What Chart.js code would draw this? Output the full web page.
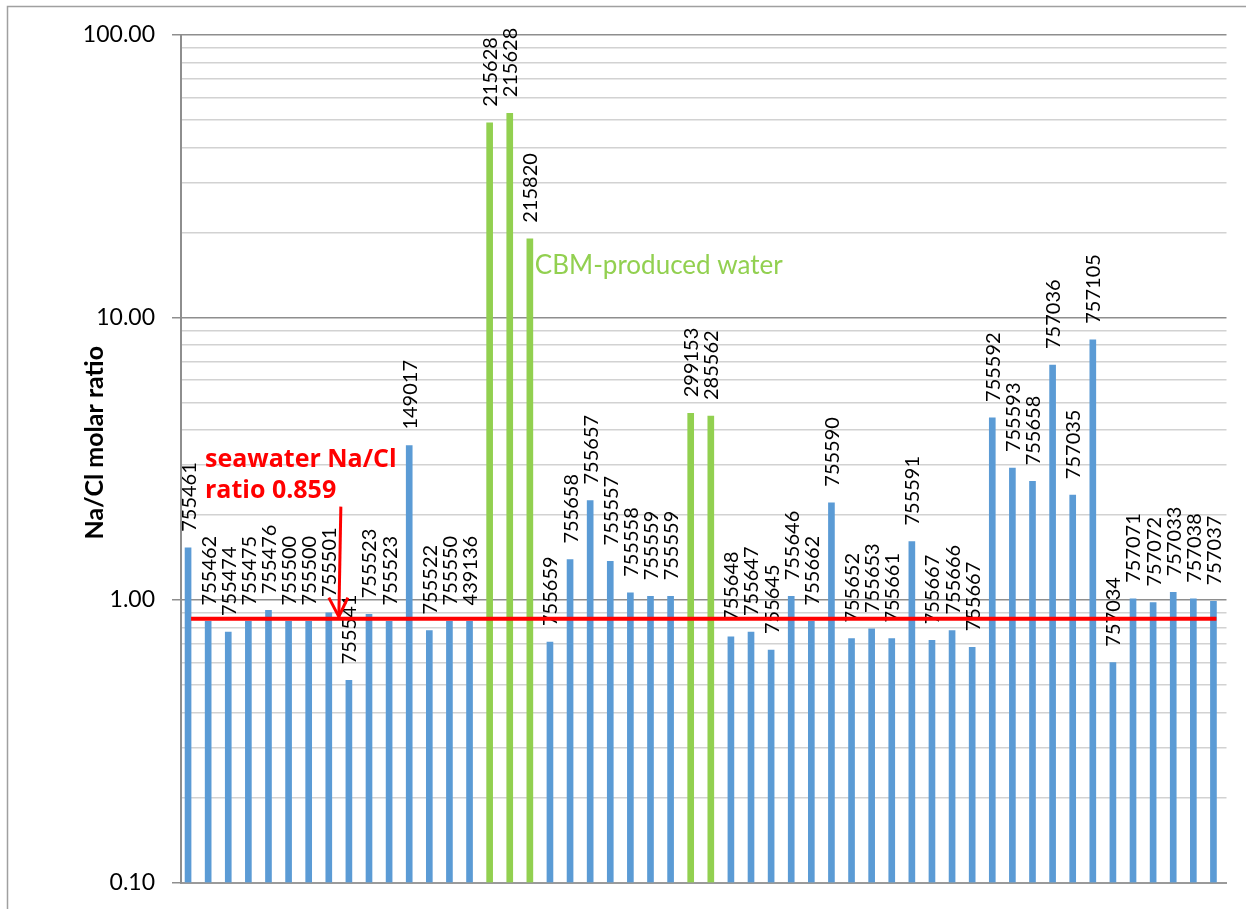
<!DOCTYPE html>
<html><head><meta charset="utf-8">
<script src="https://cdn.jsdelivr.net/npm/chart.js@4.4.1/dist/chart.umd.min.js"></script>
<style>html,body{margin:0;padding:0;background:#fff;}canvas{display:block;}</style>
</head><body>
<canvas id="c" width="1246" height="909"></canvas>
<script>
// ---- data ----
const sampleIds = ['755461','755462','755474','755475','755476','755500','755500','755501','755541','755523','755523','149017','755522','755550','439136','215628','215628','215820','755659','755658','755657','755557','755558','755559','755559','299153','285562','755648','755647','755645','755646','755662','755590','755652','755653','755661','755591','755667','755666','755667','755592','755593','755658','757036','757035','757105','757034','757071','757072','757033','757038','757037'];
const naClRatio = [1.53,0.84,0.77,0.84,0.92,0.84,0.84,0.90,0.52,0.89,0.84,3.52,0.78,0.84,0.84,48.9,52.8,19.0,0.71,1.39,2.25,1.37,1.06,1.03,1.03,4.58,4.48,0.74,0.77,0.665,1.03,0.84,2.21,0.73,0.79,0.73,1.61,0.72,0.78,0.68,4.41,2.93,2.63,6.79,2.35,8.34,0.60,1.01,0.98,1.065,1.01,0.99];
const waterType = ['other','other','other','other','other','other','other','other','other','other','other','other','other','other','other','CBM','CBM','CBM','other','other','other','other','other','other','other','CBM','CBM','other','other','other','other','other','other','other','other','other','other','other','other','other','other','other','other','other','other','other','other','other','other','other','other','other'];
const yTickValues = [0.1,0.2,0.3,0.4,0.5,0.6,0.7,0.8,0.9,1,2,3,4,5,6,7,8,9,10,20,30,40,50,60,70,80,90,100];
const yMajorTicks = [0.1,1,10,100];
const seawaterRatio = 0.859;
const yAxisTitle = 'Na/Cl molar ratio';
const seawaterNote = ['seawater Na/Cl', 'ratio 0.859'];
const cbmNote = 'CBM-produced water';

// ---- styles ----
const BLUE = '#5B9BD5', GREEN = '#92D050', RED = '#FF0000';
const isMajor = v => yMajorTicks.some(m => Math.abs(m - v) < 1e-9);

const framePlugin = {
  id: 'frame',
  beforeDraw(chart) {
    const c = chart.ctx;
    c.save();
    c.fillStyle = '#fff';
    c.fillRect(0, 0, chart.width, chart.height);
    c.strokeStyle = '#a0a0a0';
    c.lineWidth = 1.5;
    c.beginPath();
    c.moveTo(7.5, chart.height);
    c.lineTo(7.5, 6.5);
    c.lineTo(chart.width, 6.5);
    c.stroke();
    c.restore();
  },
  afterDraw(chart) {
    const c = chart.ctx, a = chart.chartArea;
    c.save();
    c.translate(95, (a.top + a.bottom) / 2 - 16);
    c.rotate(-Math.PI / 2);
    c.font = 'bold 25px Lato';
    c.fillStyle = '#000';
    c.textAlign = 'center';
    c.textBaseline = 'middle';
    c.fillText(yAxisTitle, 0, 0);
    c.restore();
  }
};

const labelPlugin = {
  id: 'barLabels',
  afterDatasetDraw(chart, args) {
    if (args.index !== 0) return;
    const c = chart.ctx;
    const meta = chart.getDatasetMeta(0);
    c.save();
    c.font = '20px Lato';
    c.fillStyle = '#000';
    c.textAlign = 'left';
    c.textBaseline = 'middle';
    meta.data.forEach((bar, i) => {
      c.save();
      c.translate(bar.x + 1, bar.y - 16);
      c.rotate(-Math.PI / 2);
      c.fillText(sampleIds[i], 0, 0);
      c.restore();
    });
    c.restore();
  }
};

const notePlugin = {
  id: 'notes',
  afterDatasetsDraw(chart) {
    const c = chart.ctx, xs = chart.scales.x, ys = chart.scales.y, a = chart.chartArea;
    const ySea = ys.getPixelForValue(seawaterRatio);
    c.save();
    c.fillStyle = RED;
    c.font = 'bold 25px "Open Sans"';
    c.textAlign = 'left';
    c.textBaseline = 'alphabetic';
    c.fillText(seawaterNote[0], a.left + 24, ySea - 152);
    c.fillText(seawaterNote[1], a.left + 24, ySea - 121);
    const ax = xs.getPixelForValue(7.5) - 3;
    const tipY = ySea - 2;
    c.strokeStyle = RED;
    c.lineWidth = 3;
    c.beginPath();
    c.moveTo(ax + 2, ySea - 112);
    c.lineTo(ax, tipY);
    c.stroke();
    c.beginPath();
    c.moveTo(ax - 10, tipY - 19);
    c.lineTo(ax, tipY);
    c.lineTo(ax + 9, tipY - 19);
    c.stroke();
    c.fillStyle = GREEN;
    c.font = '26px Lato';
    const gx = chart.getDatasetMeta(0).data[17].x;
    c.fillText(cbmNote, gx + 5, ys.getPixelForValue(10) - 44);
    c.restore();
  }
};

Chart.defaults.font.family = 'Lato';

new Chart(document.getElementById('c'), {
  type: 'bar',
  data: {
    labels: sampleIds,
    datasets: [
      {
        label: 'Na/Cl',
        data: naClRatio,
        backgroundColor: waterType.map(t => t === 'CBM' ? GREEN : BLUE),
        barThickness: 6,
        order: 0
      },
      {
        label: '',
        data: [],
        barThickness: 6,
        order: 0
      },
      {
        type: 'line',
        label: 'seawater',
        data: sampleIds.map(() => seawaterRatio),
        borderColor: RED,
        borderWidth: 4,
        pointRadius: 0,
        fill: false,
        order: -1
      }
    ]
  },
  options: {
    responsive: false,
    animation: false,
    devicePixelRatio: 1,
    layout: { padding: { left: 0, right: 19.5, top: 35, bottom: 26.5 } },
    plugins: { legend: { display: false }, tooltip: { enabled: false } },
    scales: {
      x: {
        type: 'category',
        offset: true,
        grid: { display: false, drawTicks: false },
        ticks: { display: false },
        border: { display: true, color: '#9a9a9a', width: 2 },
        afterFit(s) { s.height = 0; s.paddingLeft = 0; s.paddingRight = 0; }
      },
      y: {
        type: 'logarithmic',
        min: 0.1,
        max: 100,
        afterBuildTicks(s) { s.ticks = yTickValues.map(v => ({ value: v, major: isMajor(v) })); },
        afterFit(s) { s.width = 181; s.paddingTop = 0; s.paddingBottom = 0; },
        ticks: {
          autoSkip: false,
          padding: 17,
          color: '#000',
          font: { family: 'Lato', size: 23 },
          callback: (v) => isMajor(v) ? Number(v).toFixed(2) : ''
        },
        grid: {
          drawTicks: true,
          tickLength: 9,
          lineWidth: 1.5,
          color: ctx => isMajor(ctx.tick.value) ? '#8e8e8e' : '#d2d2d2',
          tickColor: ctx => isMajor(ctx.tick.value) ? '#8e8e8e' : 'rgba(0,0,0,0)'
        },
        border: { display: true, color: '#8e8e8e', width: 2 }
      }
    }
  },
  plugins: [framePlugin, labelPlugin, notePlugin]
});
</script>
</body></html>
